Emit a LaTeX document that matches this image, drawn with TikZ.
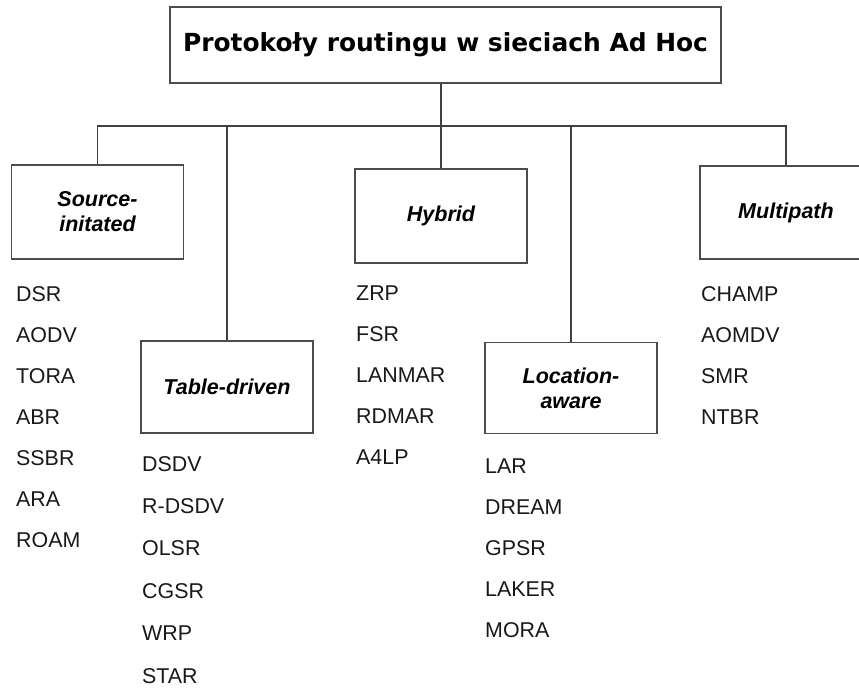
\documentclass[tikz,border=0pt]{standalone}
\usepackage{fontspec}
\setmainfont{Liberation Sans}
\newfontfamily\titlefont{DejaVu Sans}
\begin{document}
\begin{tikzpicture}[x=1pt,y=-1pt,
  titlebox/.style={draw=black!70, line width=1.7pt, minimum width=551pt, minimum height=76pt, inner sep=0pt,
    font=\titlefont\bfseries\fontsize{24.9}{28}\selectfont},
  catbox/.style={draw=black!70, line width=1.6pt, minimum width=172pt, minimum height=94pt, inner sep=0pt, align=center,
    font=\fontsize{21.5}{25}\selectfont\bfseries\itshape},
  item/.style={anchor=base west, inner sep=0pt, font=\fontsize{21.4}{25}\selectfont, text=black!90},
  conn/.style={draw=black!75, line width=1.3pt}]
\useasboundingbox (0,0) rectangle (859,688);
\fill[white] (0,0) rectangle (859,688);
\clip (0,0) rectangle (859,688);

\node[titlebox] (title) at (445.5,45) {Protokoły routingu w sieciach Ad Hoc};

\node[catbox] (src) at (97.5,212) {Source-\\initated};
\node[catbox, minimum height=92pt] (tab) at (227,387) {Table-driven};
\node[catbox] (hyb) at (441,216) {Hybrid};
\node[catbox, minimum height=91pt] (loc) at (571,388) {Location-\\aware};
\node[catbox, minimum height=93pt] (mul) at (786,212.5) {Multipath};

\coordinate (bus) at (0,126);
\draw[conn] (title.south -| hyb.north) -- (hyb.north);
\draw[conn] (src.north) -- (src.north |- bus) -- (mul.north |- bus) -- (mul.north);
\draw[conn] (tab.north) -- (tab.north |- bus);
\draw[conn] (loc.north) -- (loc.north |- bus);

\foreach \t [count=\i] in {DSR,AODV,TORA,ABR,SSBR,ARA,ROAM}
  \node[item] (s\i) at (16,{301+41*(\i-1)}) {\t};
\foreach \t [count=\i] in {DSDV,R-DSDV,OLSR,CGSR,WRP,STAR}
  \node[item] (t\i) at (142,{471+42.4*(\i-1)}) {\t};
\foreach \t [count=\i] in {ZRP,FSR,LANMAR,RDMAR,A4LP}
  \node[item] (h\i) at (356,{300+41*(\i-1)}) {\t};
\foreach \t [count=\i] in {LAR,DREAM,GPSR,LAKER,MORA}
  \node[item] (l\i) at (485,{473+41*(\i-1)}) {\t};
\foreach \t [count=\i] in {CHAMP,AOMDV,SMR,NTBR}
  \node[item] (m\i) at (701,{301+41*(\i-1)}) {\t};
\end{tikzpicture}
\end{document}
